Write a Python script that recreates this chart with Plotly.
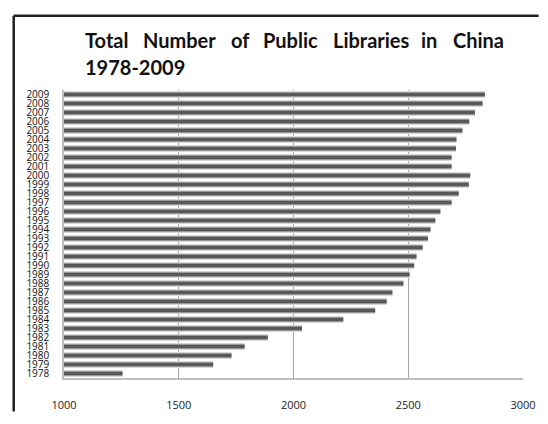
import plotly.graph_objects as go

# Public libraries in China, by year
years = [str(y) for y in range(1978, 2010)]
libraries = [1255, 1650, 1730, 1787, 1888, 2037, 2217, 2356, 2406, 2431,
             2479, 2506, 2526, 2536, 2563, 2586, 2597, 2618, 2640, 2689,
             2720, 2764, 2770, 2689, 2689, 2708, 2710, 2736, 2766, 2791,
             2824, 2834]
x_ticks = [1000, 1500, 2000, 2500, 3000]

title_words = ["Total", "Number", "of", "Public", "Libraries", "in", "China"]
title_word_px = [83, 143, 233, 266, 337, 428, 460]
subtitle = "1978-2009"

W, H = 548, 424
L, R, T, B = 64, 14, 90, 33
PW, PH = W - L - R, H - T - B


def px_x(px):
    return (px - L) / PW


def px_y(py):
    return (H - B - py) / PH


fig = go.Figure()
# soft halo behind each bar
fig.add_trace(go.Bar(
    y=years, x=libraries, orientation="h", width=0.8,
    marker=dict(color="#d6d6d6", line=dict(width=0)),
    hoverinfo="skip", showlegend=False,
))
fig.add_trace(go.Bar(
    y=years, x=libraries, orientation="h", width=0.45,
    marker=dict(color="#585858", line=dict(width=0)),
    showlegend=False,
))

title_font = dict(family="Lato", size=20, color="#111111", weight="bold")
annotations = []
for word, px in zip(title_words, title_word_px):
    annotations.append(dict(
        text=word, xref="paper", yref="paper", x=px_x(px), y=px_y(38),
        xanchor="left", yanchor="middle", showarrow=False, font=title_font,
    ))
annotations.append(dict(
    text=subtitle, xref="paper", yref="paper", x=px_x(83), y=px_y(66),
    xanchor="left", yanchor="middle", showarrow=False, font=title_font,
))

frame = dict(color="#231f20", width=2.5)
shapes = [
    dict(type="line", xref="paper", yref="paper",
         x0=px_x(12.5), x1=px_x(W + 2), y0=px_y(12.5), y1=px_y(12.5), line=frame),
    dict(type="line", xref="paper", yref="paper",
         x0=px_x(12.5), x1=px_x(12.5), y0=px_y(12.5), y1=px_y(H + 2), line=frame),
]

fig.update_layout(
    width=W, height=H,
    margin=dict(l=L, r=R, t=T, b=B),
    paper_bgcolor="white", plot_bgcolor="white",
    barmode="overlay",
    annotations=annotations, shapes=shapes,
    font=dict(family="Open Sans", color="#222222"),
)
fig.update_xaxes(
    range=[1000, 3000], tickvals=x_ticks,
    showgrid=True, gridcolor="#a6a6a6", gridwidth=1,
    showline=True, linecolor="#bfbfbf", linewidth=1.5,
    zeroline=False, ticks="outside", ticklen=16, tickcolor="rgba(0,0,0,0)",
    tickfont=dict(size=11, family="Open Sans", color="#222222"),
)
fig.update_yaxes(
    type="category", categoryorder="array", categoryarray=years,
    tickmode="array", tickvals=years, ticktext=years,
    showgrid=False, showline=True, linecolor="#bfbfbf", linewidth=1.5,
    ticks="", ticklabelstandoff=11,
    tickfont=dict(size=10, family="Open Sans", color="#111111"),
)

fig.write_html("out.html")
